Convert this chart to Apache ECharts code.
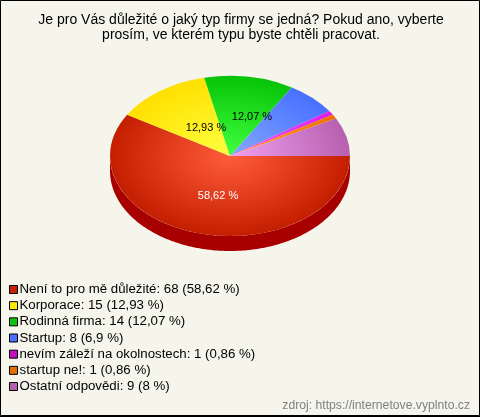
<!DOCTYPE html>
<html><head><meta charset="utf-8">
<style>html,body{margin:0;padding:0;background:#f5f5ec}#c{width:480px;height:417px}</style>
<script src="https://cdn.jsdelivr.net/npm/echarts@6/dist/echarts.min.js"></script>
</head><body><div id="c"></div>
<script>
const titleLines = ['Je pro Vás důležité o jaký typ firmy se jedná? Pokud ano, vyberte', 'prosím, ve kterém typu byste chtěli pracovat.'];
const categories = ['Není to pro mě důležité', 'Korporace', 'Rodinná firma', 'Startup', 'nevím záleží na okolnostech', 'startup ne!', 'Ostatní odpovědi'];
const values = [68, 15, 14, 8, 1, 1, 9];
const percentText = ['58,62 %', '12,93 %', '12,07 %', '6,9 %', '0,86 %', '0,86 %', '8 %'];
const sliceLabels = ['58,62 %', '12,93 %', '12,07 %', '', '', '', ''];
const labelColors = ['#ffffff', '#000000', '#000000', '#000000', '#000000', '#000000', '#000000'];
const swatchColors = ['#c82000', '#ffe800', '#0cc40c', '#4a70ff', '#c010c0', '#e07000', '#b860b0'];
const innerColors = ['#ff5c3c', '#ffff40', '#40ff40', '#84a8ff', '#ff50ff', '#ffa030', '#f0a0f0'];
const outerColors = ['#c41e00', '#ffe000', '#08c408', '#4870ff', '#d820e8', '#f07000', '#b860b0'];
const sideColors = ['#a80000', '#b09a00', '#088008', '#2040b0', '#800080', '#a04000', '#804080'];
const sourceText = 'zdroj: https://internetove.vyplnto.cz';

const CX = 230, CY = 156, RX = 120, RY = 80, DEPTH = 15;
const LABEL_ANCHORS = [[-0.1, 0.5], [-0.2, -0.35], [0.183, -0.4875]];
const total = values.reduce((a, b) => a + b, 0);
const el = document.getElementById('c');
const chart = echarts.init(el, null, {renderer: 'canvas', width: 480, height: 417});

function angles(i) {
  let s = 0;
  for (let k = 0; k < i; k++) s += values[k];
  return [s / total * Math.PI * 2, (s + values[i]) / total * Math.PI * 2];
}
const pt = (a, dy) => [CX + RX * Math.cos(a), CY + RY * Math.sin(a) + dy];

function renderSide(i) {
  const [a0, a1] = angles(i);
  const from = Math.max(a0, 0), to = Math.min(a1, Math.PI);
  if (to <= from) return {type: 'group', children: []};
  const top = [], bottom = [];
  const n = Math.max(2, Math.ceil((to - from) * 60));
  for (let k = 0; k <= n; k++) {
    const a = from + (to - from) * k / n;
    top.push(pt(a, 0));
    bottom.unshift(pt(a, DEPTH));
  }
  return {type: 'polygon', shape: {points: top.concat(bottom)}, style: {fill: sideColors[i]}, silent: true};
}
function renderTop(i) {
  const [a0, a1] = angles(i);
  return {
    type: 'sector',
    originX: CX, originY: CY,
    scaleY: RY / RX,
    shape: {cx: CX, cy: CY, r: RX, r0: 0, startAngle: a0, endAngle: a1, clockwise: true},
    style: {fill: {type: 'radial', x: CX, y: CY, r: RX, global: true,
      colorStops: [{offset: 0, color: innerColors[i]}, {offset: 1, color: outerColors[i]}]}}
  };
}
function renderLabel(i) {
  if (!sliceLabels[i]) return {type: 'group', children: []};
  const a = LABEL_ANCHORS[i];
  return {type: 'text', style: {x: CX + RX * a[0], y: CY + RY * a[1], text: sliceLabels[i], fill: labelColors[i],
    font: '11px "Liberation Sans", Arial, sans-serif', align: 'center', verticalAlign: 'middle'}, z2: 100};
}
const legendName = i => categories[i] + ': ' + values[i] + ' (' + percentText[i] + ')';

const series = categories.map((c, i) => ({
  type: 'custom', name: legendName(i), coordinateSystem: 'none', z: 2,
  data: [values[i]], animation: false,
  itemStyle: {color: swatchColors[i]},
  renderItem: () => ({type: 'group', children: [renderSide(i), renderTop(i)]})
}));
series.push({
  type: 'custom', name: '__labels', coordinateSystem: 'none', z: 5, silent: true,
  data: values, animation: false,
  renderItem: (p) => renderLabel(p.dataIndex)
});

chart.setOption({
  animation: false,
  backgroundColor: '#f5f5ec',
  title: {
    text: titleLines.join('\n'), left: 236, top: 8, textAlign: 'center',
    textStyle: {fontFamily: '"Liberation Sans", Arial, sans-serif', fontSize: 14, fontWeight: 'normal', color: '#000', lineHeight: 15}
  },
  legend: {
    data: categories.map((c, i) => ({name: legendName(i), icon: 'rect',
      itemStyle: {color: swatchColors[i], borderColor: '#000', borderWidth: 1}})),
    orient: 'vertical', left: 9, top: 283, padding: 0,
    itemWidth: 8, itemHeight: 8, itemGap: 3.17, selectedMode: false,
    textStyle: {fontFamily: '"Liberation Sans", Arial, sans-serif', fontSize: 13.25, color: '#000', padding: [0, 0, 0, -3], lineHeight: 13}
  },
  graphic: [
    {type: 'text', right: 10, top: 400, style: {text: sourceText, fill: '#808080', font: '12.2px "Liberation Sans", Arial, sans-serif'}},
    {type: 'rect', shape: {x: 0.5, y: 0.5, width: 479, height: 415}, style: {fill: 'none', stroke: '#000', lineWidth: 1}, silent: true, z: 100},
    {type: 'line', shape: {x1: 0, y1: 416.5, x2: 480, y2: 416.5}, style: {stroke: '#000', lineWidth: 1}, silent: true, z: 100}
  ],
  series
});
</script></body></html>
